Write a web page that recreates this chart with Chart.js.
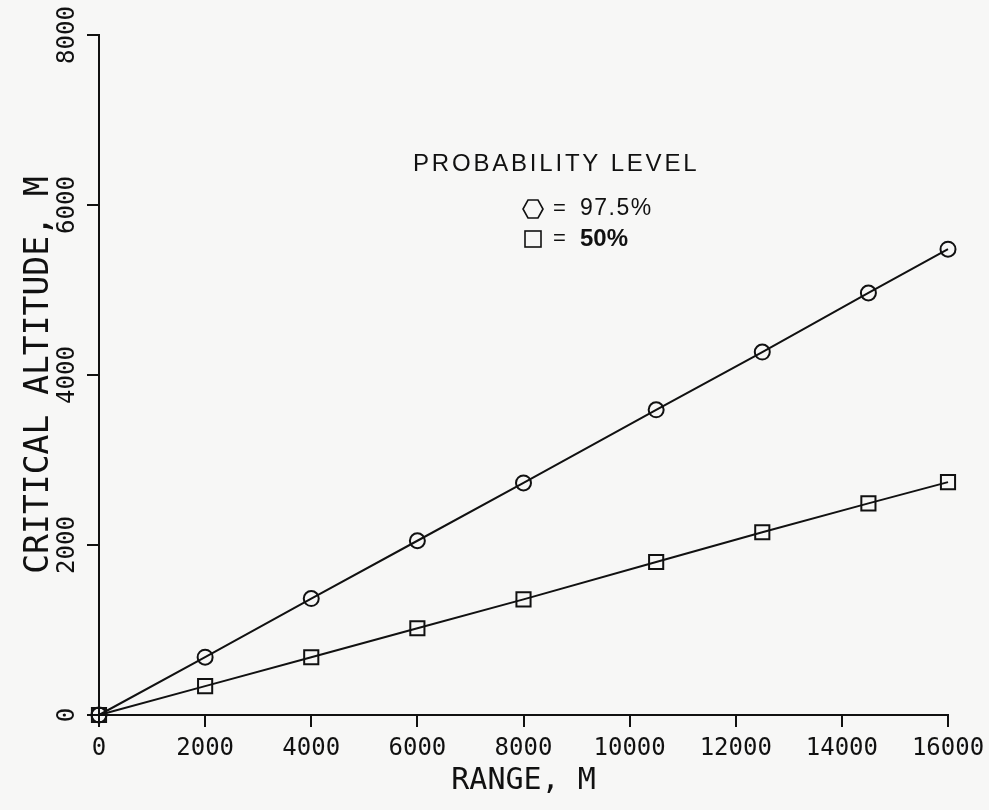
<!DOCTYPE html>
<html>
<head>
<meta charset="utf-8">
<title>Critical altitude vs range</title>
<script src="https://cdn.jsdelivr.net/npm/chart.js@4.4.1/dist/chart.umd.min.js"></script>
<style>
  html, body { margin: 0; padding: 0; background: #f7f7f6; }
  #wrap { width: 989px; height: 810px; }
</style>
</head>
<body>
<div id="wrap"><canvas id="chart" width="989" height="810"></canvas></div>
<script>
// ── data ──
const rangeM = [0, 2000, 4000, 6000, 8000, 10500, 12500, 14500, 16000];
const alt975 = [0, 680, 1370, 2050, 2730, 3590, 4270, 4965, 5480];
const alt50  = [0, 340, 680, 1020, 1360, 1800, 2150, 2490, 2740];

const xTicks = [0, 2000, 4000, 6000, 8000, 10000, 12000, 14000, 16000];
const yTicks = [0, 2000, 4000, 6000, 8000];

const yTitle = 'CRITICAL ALTITUDE, M';
const xTitle = 'RANGE, M';
const legendTitle = 'PROBABILITY LEVEL';
const legendValues = ['97.5%', '50%'];

const MONO = '"DejaVu Sans Mono", "Liberation Mono", monospace';
const SANS = '"Liberation Sans", Arial, sans-serif';
const INK = '#111';

const toPoints = (xs, ys) => xs.map((x, i) => ({ x, y: ys[i] }));

// legend block inside the plot (hexagon = 97.5 %, square = 50 %)
const legendBox = {
  id: 'legendBox',
  afterDraw(chart) {
    const ctx = chart.ctx;
    ctx.save();
    ctx.fillStyle = INK;
    ctx.strokeStyle = INK;
    ctx.textAlign = 'left';
    ctx.textBaseline = 'middle';

    ctx.font = `24px ${SANS}`;
    ctx.letterSpacing = '2.8px';
    ctx.fillText(legendTitle, 413, 164);
    ctx.letterSpacing = '0px';

    // hexagon
    ctx.lineWidth = 1.6;
    ctx.beginPath();
    for (let k = 0; k < 6; k++) {
      const a = k * Math.PI / 3;
      const px = 533 + 10 * Math.cos(a), py = 209 + 10.4 * Math.sin(a);
      k ? ctx.lineTo(px, py) : ctx.moveTo(px, py);
    }
    ctx.closePath();
    ctx.stroke();
    // square
    ctx.strokeRect(525, 231, 16, 16);

    ctx.font = `22px ${SANS}`;
    ctx.fillText('=', 553, 209);
    ctx.fillText('=', 553, 239);
    ctx.font = `23px ${SANS}`;
    ctx.letterSpacing = '1.5px';
    ctx.fillText(legendValues[0], 580, 209);
    ctx.letterSpacing = '0px';
    ctx.font = `bold 24px ${SANS}`;
    ctx.fillText(legendValues[1], 580, 239);
    ctx.restore();
  }
};

new Chart(document.getElementById('chart'), {
  type: 'scatter',
  data: {
    datasets: [
      {
        label: '97.5%',
        data: toPoints(rangeM, alt975),
        showLine: true,
        borderColor: INK,
        borderWidth: 2,
        pointStyle: 'circle',
        pointRadius: 7.5,
        pointBorderWidth: 2,
        pointBackgroundColor: 'transparent',
        pointBorderColor: INK,
        clip: false,
      },
      {
        label: '50%',
        data: toPoints(rangeM, alt50),
        showLine: true,
        borderColor: INK,
        borderWidth: 2,
        pointStyle: 'rect',
        pointRadius: 10,
        pointBorderWidth: 2,
        pointBackgroundColor: 'transparent',
        pointBorderColor: INK,
        clip: false,
      },
    ],
  },
  options: {
    responsive: false,
    animation: false,
    layout: { padding: { left: 0, top: 35, right: 41, bottom: 0 } },
    plugins: {
      legend: { display: false },
      tooltip: { enabled: false },
    },
    scales: {
      x: {
        type: 'linear',
        min: 0,
        max: 16000,
        afterBuildTicks: s => { s.ticks = xTicks.map(v => ({ value: v })); },
        afterFit: s => { s.height = 95; s.paddingRight = 0; },
        border: { display: true, color: INK, width: 2 },
        grid: { drawOnChartArea: false, drawTicks: true, tickLength: 12, color: INK, lineWidth: 2 },
        ticks: {
          color: INK,
          font: { family: MONO, size: 24 },
          padding: 7,
          maxRotation: 0,
          callback: v => String(v),
        },
        title: {
          display: true,
          text: xTitle,
          color: INK,
          font: { family: MONO, size: 30 },
          padding: { top: 0, bottom: 11 },
        },
      },
      y: {
        type: 'linear',
        min: 0,
        max: 8000,
        afterBuildTicks: s => { s.ticks = yTicks.map(v => ({ value: v })); },
        afterFit: s => { s.width = 99; },
        border: { display: true, color: INK, width: 2 },
        grid: { drawOnChartArea: false, drawTicks: true, tickLength: 12, color: INK, lineWidth: 2 },
        ticks: {
          color: INK,
          font: { family: MONO, size: 24 },
          minRotation: 90,
          maxRotation: 90,
          crossAlign: 'center',
          padding: -10,
          callback: v => String(v),
        },
        title: {
          display: true,
          text: yTitle,
          color: INK,
          font: { family: MONO, size: 33 },
          padding: { top: 20, bottom: 0 },
        },
      },
    },
  },
  plugins: [legendBox],
});
</script>
</body>
</html>
